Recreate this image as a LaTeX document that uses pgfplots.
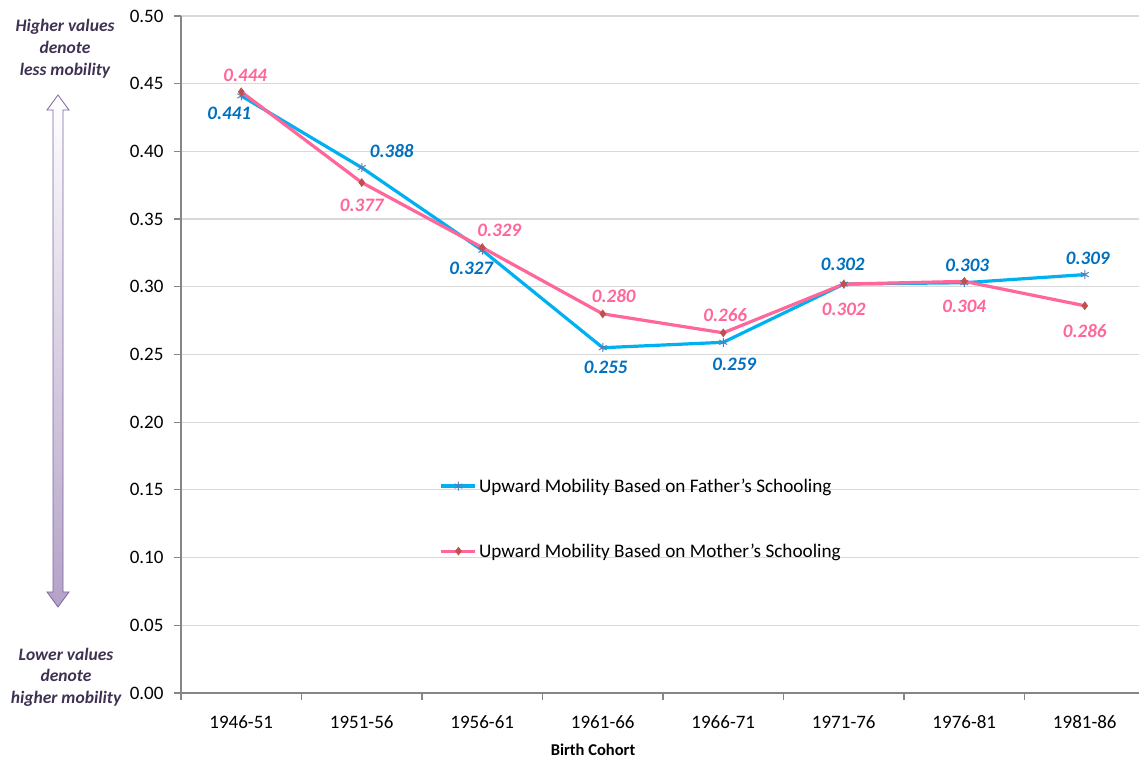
\documentclass[border=0pt]{standalone}
\usepackage{pgfplots}
\usepackage{pgfplotstable}
\pgfplotsset{compat=1.18}
\usepackage{fontspec}
\setmainfont{Carlito}
\definecolor{fatherline}{HTML}{00B0F0}
\definecolor{motherline}{HTML}{FF6699}
\definecolor{fathermark}{HTML}{4F81BD}
\definecolor{mothermark}{HTML}{C0504D}
\definecolor{fatherlab}{HTML}{0070C0}
\definecolor{motherlab}{HTML}{FF6699}
\definecolor{annot}{HTML}{3F3151}
\definecolor{gridc}{HTML}{D9D9D9}
\definecolor{axisc}{HTML}{868686}
\definecolor{arrowfill}{HTML}{B3A2C7}
\definecolor{arrowline}{HTML}{8064A2}

\pgfplotstableread{
x father mother
0 0.441 0.444
1 0.388 0.377
2 0.327 0.329
3 0.255 0.280
4 0.259 0.266
5 0.302 0.302
6 0.303 0.304
7 0.309 0.286
}\mobdata

\begin{document}
\begin{tikzpicture}[x=1pt,y=1pt]
\path[use as bounding box] (0,0) rectangle (1139,759);
% left arrow
\path[top color=white, bottom color=arrowfill, draw=arrowline, line width=0.8pt]
  (58,664) -- (69,649) -- (63,649) -- (63,167) -- (69,167) -- (58,152) -- (47,167) -- (53,167) -- (53,649) -- (47,649) -- cycle;
\node[align=center, text=annot, font=\fontsize{17.5}{22}\selectfont\bfseries\itshape] at (65,710) {Higher values\\denote\\less mobility};
\node[align=center, text=annot, font=\fontsize{17.5}{21.5}\selectfont\bfseries\itshape] at (66,82) {Lower values\\denote\\higher mobility};
\begin{axis}[
  at={(181pt,66pt)}, anchor=south west,
  scale only axis, width=958pt, height=677pt,
  xmin=-0.5, xmax=7.45, ymin=0, ymax=0.5,
  axis x line*=bottom, axis y line*=left,
  axis line style={draw=axisc, line width=1.5pt},
  xtick={0,...,7},
  xticklabels={1946-51,1951-56,1956-61,1961-66,1966-71,1971-76,1976-81,1981-86},
  major x tick style={draw=none},
  minor xtick={-0.5,0.5,1.5,2.5,3.5,4.5,5.5,6.5},
  minor x tick style={draw=axisc, line width=1.2pt},
  minor tick length=7pt,
  major tick length=7pt,
  tick align=outside,
  ytick={0,0.05,0.1,0.15,0.2,0.25,0.3,0.35,0.4,0.45,0.5},
  y tick style={draw=axisc, line width=1.2pt},
  yticklabel style={xshift=-7pt, /pgf/number format/fixed, /pgf/number format/fixed zerofill, /pgf/number format/precision=2, /pgf/number format/assume math mode=true},
  xticklabel style={yshift=-12pt},
  ticklabel style={font=\fontsize{19}{20}\selectfont},
  ymajorgrids, grid style={draw=gridc, line width=1.2pt},
  xlabel={\bfseries Birth Cohort},
  xlabel style={font=\fontsize{16.5}{18}\selectfont, yshift=-8pt, xshift=-67pt},
  legend style={at={(0.27,0.32)}, anchor=north west, draw=none, fill=none,
    font=\fontsize{19.2}{20}\selectfont, row sep=46pt, inner sep=0pt},
  legend cell align=left,
  legend image code/.code={\draw[mark repeat=2,mark phase=2,#1] plot coordinates {(0pt,0pt) (17pt,0pt) (34pt,0pt)};},
  clip=false,
]
\addplot[color=fatherline, line width=3.2pt, mark=asterisk, mark size=4.5pt,
  mark options={draw=fathermark, line width=1pt}] table[x=x,y=father]{\mobdata};
\addlegendentry{Upward Mobility Based on Father’s Schooling}
\addplot[color=motherline, line width=3.2pt, mark=diamond*, mark size=4pt,
  mark options={draw=mothermark, fill=mothermark, line width=0.5pt}] table[x=x,y=mother]{\mobdata};
\addlegendentry{Upward Mobility Based on Mother’s Schooling}

\tikzset{flab/.style={text=fatherlab, font=\fontsize{19}{20}\selectfont\bfseries\itshape},
         mlab/.style={text=motherlab, font=\fontsize{19}{20}\selectfont\bfseries\itshape}}
\node[flab, xshift=-12pt, yshift=-17pt] at (axis cs:0,0.441) {0.441};
\node[flab, xshift=30pt, yshift=17pt] at (axis cs:1,0.388) {0.388};
\node[flab, xshift=-11pt, yshift=-18pt] at (axis cs:2,0.327) {0.327};
\node[flab, xshift=3pt, yshift=-20pt] at (axis cs:3,0.255) {0.255};
\node[flab, xshift=11pt, yshift=-22pt] at (axis cs:4,0.259) {0.259};
\node[flab, xshift=-1pt, yshift=20pt] at (axis cs:5,0.302) {0.302};
\node[flab, xshift=3pt, yshift=17pt] at (axis cs:6,0.303) {0.303};
\node[flab, xshift=3pt, yshift=16pt] at (axis cs:7,0.309) {0.309};

\node[mlab, xshift=4pt, yshift=16pt] at (axis cs:0,0.444) {0.444};
\node[mlab, xshift=0pt, yshift=-23pt] at (axis cs:1,0.377) {0.377};
\node[mlab, xshift=17pt, yshift=17pt] at (axis cs:2,0.329) {0.329};
\node[mlab, xshift=11pt, yshift=18pt] at (axis cs:3,0.280) {0.280};
\node[mlab, xshift=2pt, yshift=18pt] at (axis cs:4,0.266) {0.266};
\node[mlab, xshift=0pt, yshift=-25pt] at (axis cs:5,0.302) {0.302};
\node[mlab, xshift=0pt, yshift=-25pt] at (axis cs:6,0.304) {0.304};
\node[mlab, xshift=0pt, yshift=-25pt] at (axis cs:7,0.286) {0.286};
\end{axis}
\end{tikzpicture}
\end{document}
